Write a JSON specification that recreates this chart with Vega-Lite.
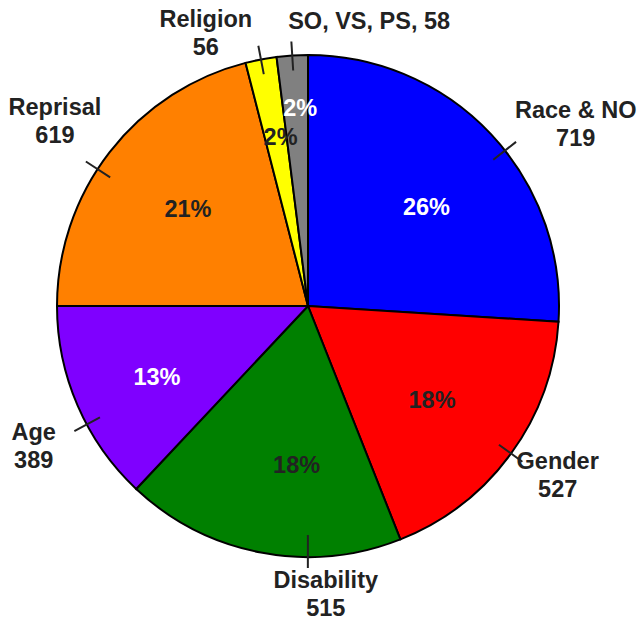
{
  "$schema": "https://vega.github.io/schema/vega-lite/v6.json",
  "width": 616,
  "height": 612,
  "autosize": {"type": "none"},
  "padding": {"left": 0, "top": 0, "right": 25, "bottom": 8},
  "background": "white",
  "config": {"view": {"stroke": null}, "text": {"font": "Liberation Sans", "fontWeight": "bold"}},
  "data": {"values": [
    {"ord": 1, "cat": "Race & NO", "count": 719, "share": 0.26, "label": "Race & NO\n719"},
    {"ord": 2, "cat": "Gender", "count": 527, "share": 0.18, "label": "Gender\n527"},
    {"ord": 3, "cat": "Disability", "count": 515, "share": 0.18, "label": "Disability\n515"},
    {"ord": 4, "cat": "Age", "count": 389, "share": 0.13, "label": "Age\n389"},
    {"ord": 5, "cat": "Reprisal", "count": 619, "share": 0.21, "label": "Reprisal\n619"},
    {"ord": 6, "cat": "Religion", "count": 56, "share": 0.02, "label": "Religion\n56"},
    {"ord": 7, "cat": "SO, VS, PS", "count": 58, "share": 0.02, "label": "SO, VS, PS, 58"}
  ]},
  "encoding": {
    "theta": {"field": "share", "type": "quantitative", "stack": true},
    "order": {"field": "ord", "type": "quantitative"},
    "detail": {"field": "cat", "type": "nominal"}
  },
  "layer": [
    {"mark": {"type": "arc", "outerRadius": 251, "stroke": "#000000", "strokeWidth": 2},
     "encoding": {"color": {"field": "cat", "type": "nominal", "legend": null,
       "scale": {"domain": ["Race & NO", "Gender", "Disability", "Age", "Reprisal", "Religion", "SO, VS, PS"],
                 "range": ["#0000FF", "#FF0000", "#008000", "#7F00FF", "#FF8000", "#FFFF00", "#808080"]}}}},
    {"mark": {"type": "arc", "innerRadius": 236, "outerRadius": 265, "padAngle": 3, "fillOpacity": 0, "fill": "#ffffff", "stroke": "#222222", "strokeWidth": 2},
     "encoding": {"strokeOpacity": {"condition": {"test": "datum.cat==='Gender'||datum.cat==='Religion'||datum.cat==='SO, VS, PS'", "value": 1}, "value": 0}}},
    {"mark": {"type": "arc", "innerRadius": 236, "outerRadius": 265, "padAngle": 3, "fillOpacity": 0, "fill": "#ffffff", "stroke": "#222222", "strokeWidth": 2, "thetaOffset": 0.086, "theta2Offset": 0.086},
     "encoding": {"strokeOpacity": {"condition": {"test": "datum.cat==='Race & NO'", "value": 1}, "value": 0}}},
    {"mark": {"type": "arc", "innerRadius": 236, "outerRadius": 265, "padAngle": 3, "fillOpacity": 0, "fill": "#ffffff", "stroke": "#222222", "strokeWidth": 2, "thetaOffset": -0.083, "theta2Offset": -0.083},
     "encoding": {"strokeOpacity": {"condition": {"test": "datum.cat==='Age'||datum.cat==='Reprisal'", "value": 1}, "value": 0}}},
    {"mark": {"type": "arc", "innerRadius": 229, "outerRadius": 262, "padAngle": 3, "fillOpacity": 0, "fill": "#ffffff", "stroke": "#222222", "strokeWidth": 2, "thetaOffset": -0.188, "theta2Offset": -0.188},
     "encoding": {"strokeOpacity": {"condition": {"test": "datum.cat==='Disability'", "value": 1}, "value": 0}}},

    {"mark": {"type": "text", "radius": 157, "dx": 4, "dy": 9, "fontSize": 23.5, "color": "#ffffff"},
     "encoding": {"text": {"condition": {"test": "datum.cat==='Race & NO'", "field": "share", "type": "quantitative", "format": ".0%"}, "value": ""}}},
    {"mark": {"type": "text", "radius": 157, "dx": -3, "dy": 3, "fontSize": 23.5, "color": "#222222"},
     "encoding": {"text": {"condition": {"test": "datum.cat==='Gender'", "field": "share", "type": "quantitative", "format": ".0%"}, "value": ""}}},
    {"mark": {"type": "text", "radius": 157, "dx": 18, "dy": 6, "fontSize": 23.5, "color": "#222222"},
     "encoding": {"text": {"condition": {"test": "datum.cat==='Disability'", "field": "share", "type": "quantitative", "format": ".0%"}, "value": ""}}},
    {"mark": {"type": "text", "radius": 157, "dx": -7, "dy": 10, "fontSize": 23.5, "color": "#ffffff"},
     "encoding": {"text": {"condition": {"test": "datum.cat==='Age'", "field": "share", "type": "quantitative", "format": ".0%"}, "value": ""}}},
    {"mark": {"type": "text", "radius": 157, "dx": 4, "dy": 0, "fontSize": 23.5, "color": "#222222"},
     "encoding": {"text": {"condition": {"test": "datum.cat==='Reprisal'", "field": "share", "type": "quantitative", "format": ".0%"}, "value": ""}}},
    {"mark": {"type": "text", "radius": 157, "dx": 2, "dy": -14, "fontSize": 23.5, "color": "#222222"},
     "encoding": {"text": {"condition": {"test": "datum.cat==='Religion'", "field": "share", "type": "quantitative", "format": ".0%"}, "value": ""}}},
    {"mark": {"type": "text", "radius": 157, "dx": 2, "dy": -40, "fontSize": 23.5, "color": "#ffffff"},
     "encoding": {"text": {"condition": {"test": "datum.cat==='SO, VS, PS'", "field": "share", "type": "quantitative", "format": ".0%"}, "value": ""}}},

    {"mark": {"type": "text", "radius": 300, "dx": 49, "dy": 10, "fontSize": 23.5, "lineBreak": "\n", "lineHeight": 28, "color": "#222222"},
     "encoding": {"text": {"condition": {"test": "datum.cat==='Race & NO'", "field": "label", "type": "nominal"}, "value": ""}}},
    {"mark": {"type": "text", "radius": 300, "dx": 7, "dy": -20, "fontSize": 23.5, "lineBreak": "\n", "lineHeight": 28, "color": "#222222"},
     "encoding": {"text": {"condition": {"test": "datum.cat==='Gender'", "field": "label", "type": "nominal"}, "value": ""}}},
    {"mark": {"type": "text", "radius": 300, "dx": 74, "dy": -20, "fontSize": 23.5, "lineBreak": "\n", "lineHeight": 28, "color": "#222222"},
     "encoding": {"text": {"condition": {"test": "datum.cat==='Disability'", "field": "label", "type": "nominal"}, "value": ""}}},
    {"mark": {"type": "text", "radius": 300, "dx": 1, "dy": 8, "fontSize": 23.5, "lineBreak": "\n", "lineHeight": 28, "color": "#222222"},
     "encoding": {"text": {"condition": {"test": "datum.cat==='Age'", "field": "label", "type": "nominal"}, "value": ""}}},
    {"mark": {"type": "text", "radius": 300, "dx": -16, "dy": -14, "fontSize": 23.5, "lineBreak": "\n", "lineHeight": 28, "color": "#222222"},
     "encoding": {"text": {"condition": {"test": "datum.cat==='Reprisal'", "field": "label", "type": "nominal"}, "value": ""}}},
    {"mark": {"type": "text", "radius": 300, "dx": -46, "dy": 9, "fontSize": 23.5, "lineBreak": "\n", "lineHeight": 28, "color": "#222222"},
     "encoding": {"text": {"condition": {"test": "datum.cat==='Religion'", "field": "label", "type": "nominal"}, "value": ""}}},
    {"mark": {"type": "text", "radius": 300, "dx": 80, "dy": 15, "fontSize": 23.5, "lineBreak": "\n", "lineHeight": 28, "color": "#222222"},
     "encoding": {"text": {"condition": {"test": "datum.cat==='SO, VS, PS'", "field": "label", "type": "nominal"}, "value": ""}}}
  ]
}
